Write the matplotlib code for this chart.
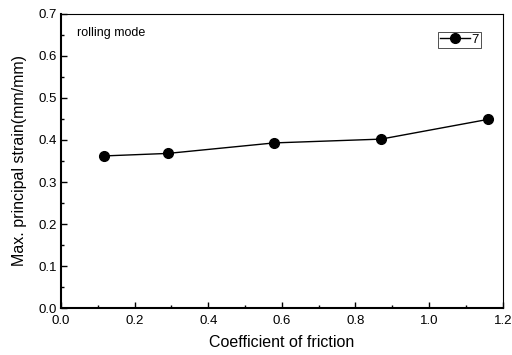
import matplotlib
matplotlib.use('Agg')
import matplotlib.pyplot as plt
from matplotlib.ticker import MultipleLocator

# data
friction = [0.116, 0.290, 0.579, 0.869, 1.160]
strain = [0.362, 0.368, 0.393, 0.402, 0.449]
series_label = '7'

plt.rcParams['font.family'] = ['Liberation Sans', 'DejaVu Sans']

fig = plt.figure(figsize=(5.12, 3.55), dpi=100)
ax = fig.add_axes([0.119, 0.132, 0.863, 0.829])

ax.plot(friction, strain, color='black', linewidth=1.0, marker='o',
        markersize=7, label=series_label)

ax.set_xlim(0.0, 1.2)
ax.set_ylim(0.0, 0.7)
ax.xaxis.set_major_locator(MultipleLocator(0.2))
ax.xaxis.set_minor_locator(MultipleLocator(0.1))
ax.yaxis.set_major_locator(MultipleLocator(0.1))
ax.yaxis.set_minor_locator(MultipleLocator(0.05))
ax.xaxis.set_major_formatter(plt.FormatStrFormatter('%.1f'))
ax.yaxis.set_major_formatter(plt.FormatStrFormatter('%.1f'))

ax.tick_params(which='both', direction='in', top=False, right=False, labelsize=9.5)
ax.tick_params(which='major', length=4, width=1)
ax.tick_params(axis='x', which='major', pad=5)
ax.tick_params(axis='y', which='major', pad=3)
ax.tick_params(which='minor', length=2.5, width=1)

ax.spines['left'].set_linewidth(1.5)
ax.spines['bottom'].set_linewidth(1.5)
ax.spines['top'].set_linewidth(0.8)
ax.spines['right'].set_linewidth(0.8)

ax.set_xlabel('Coefficient of friction', fontsize=11.5, labelpad=6)
ax.set_ylabel('Max. principal strain(mm/mm)', fontsize=11.5, labelpad=8)

ax.text(0.037, 0.955, 'rolling mode', transform=ax.transAxes, fontsize=9,
        va='top', ha='left')

leg = ax.legend(loc='upper right', bbox_to_anchor=(0.95, 0.94), fontsize=9.5,
                handlelength=2.3, handletextpad=0.1, borderpad=0.15,
                borderaxespad=0.0, fancybox=False, frameon=True)
leg.get_frame().set_edgecolor('black')
leg.get_frame().set_linewidth(0.6)

plt.savefig('out.png', dpi=100, facecolor='white')
